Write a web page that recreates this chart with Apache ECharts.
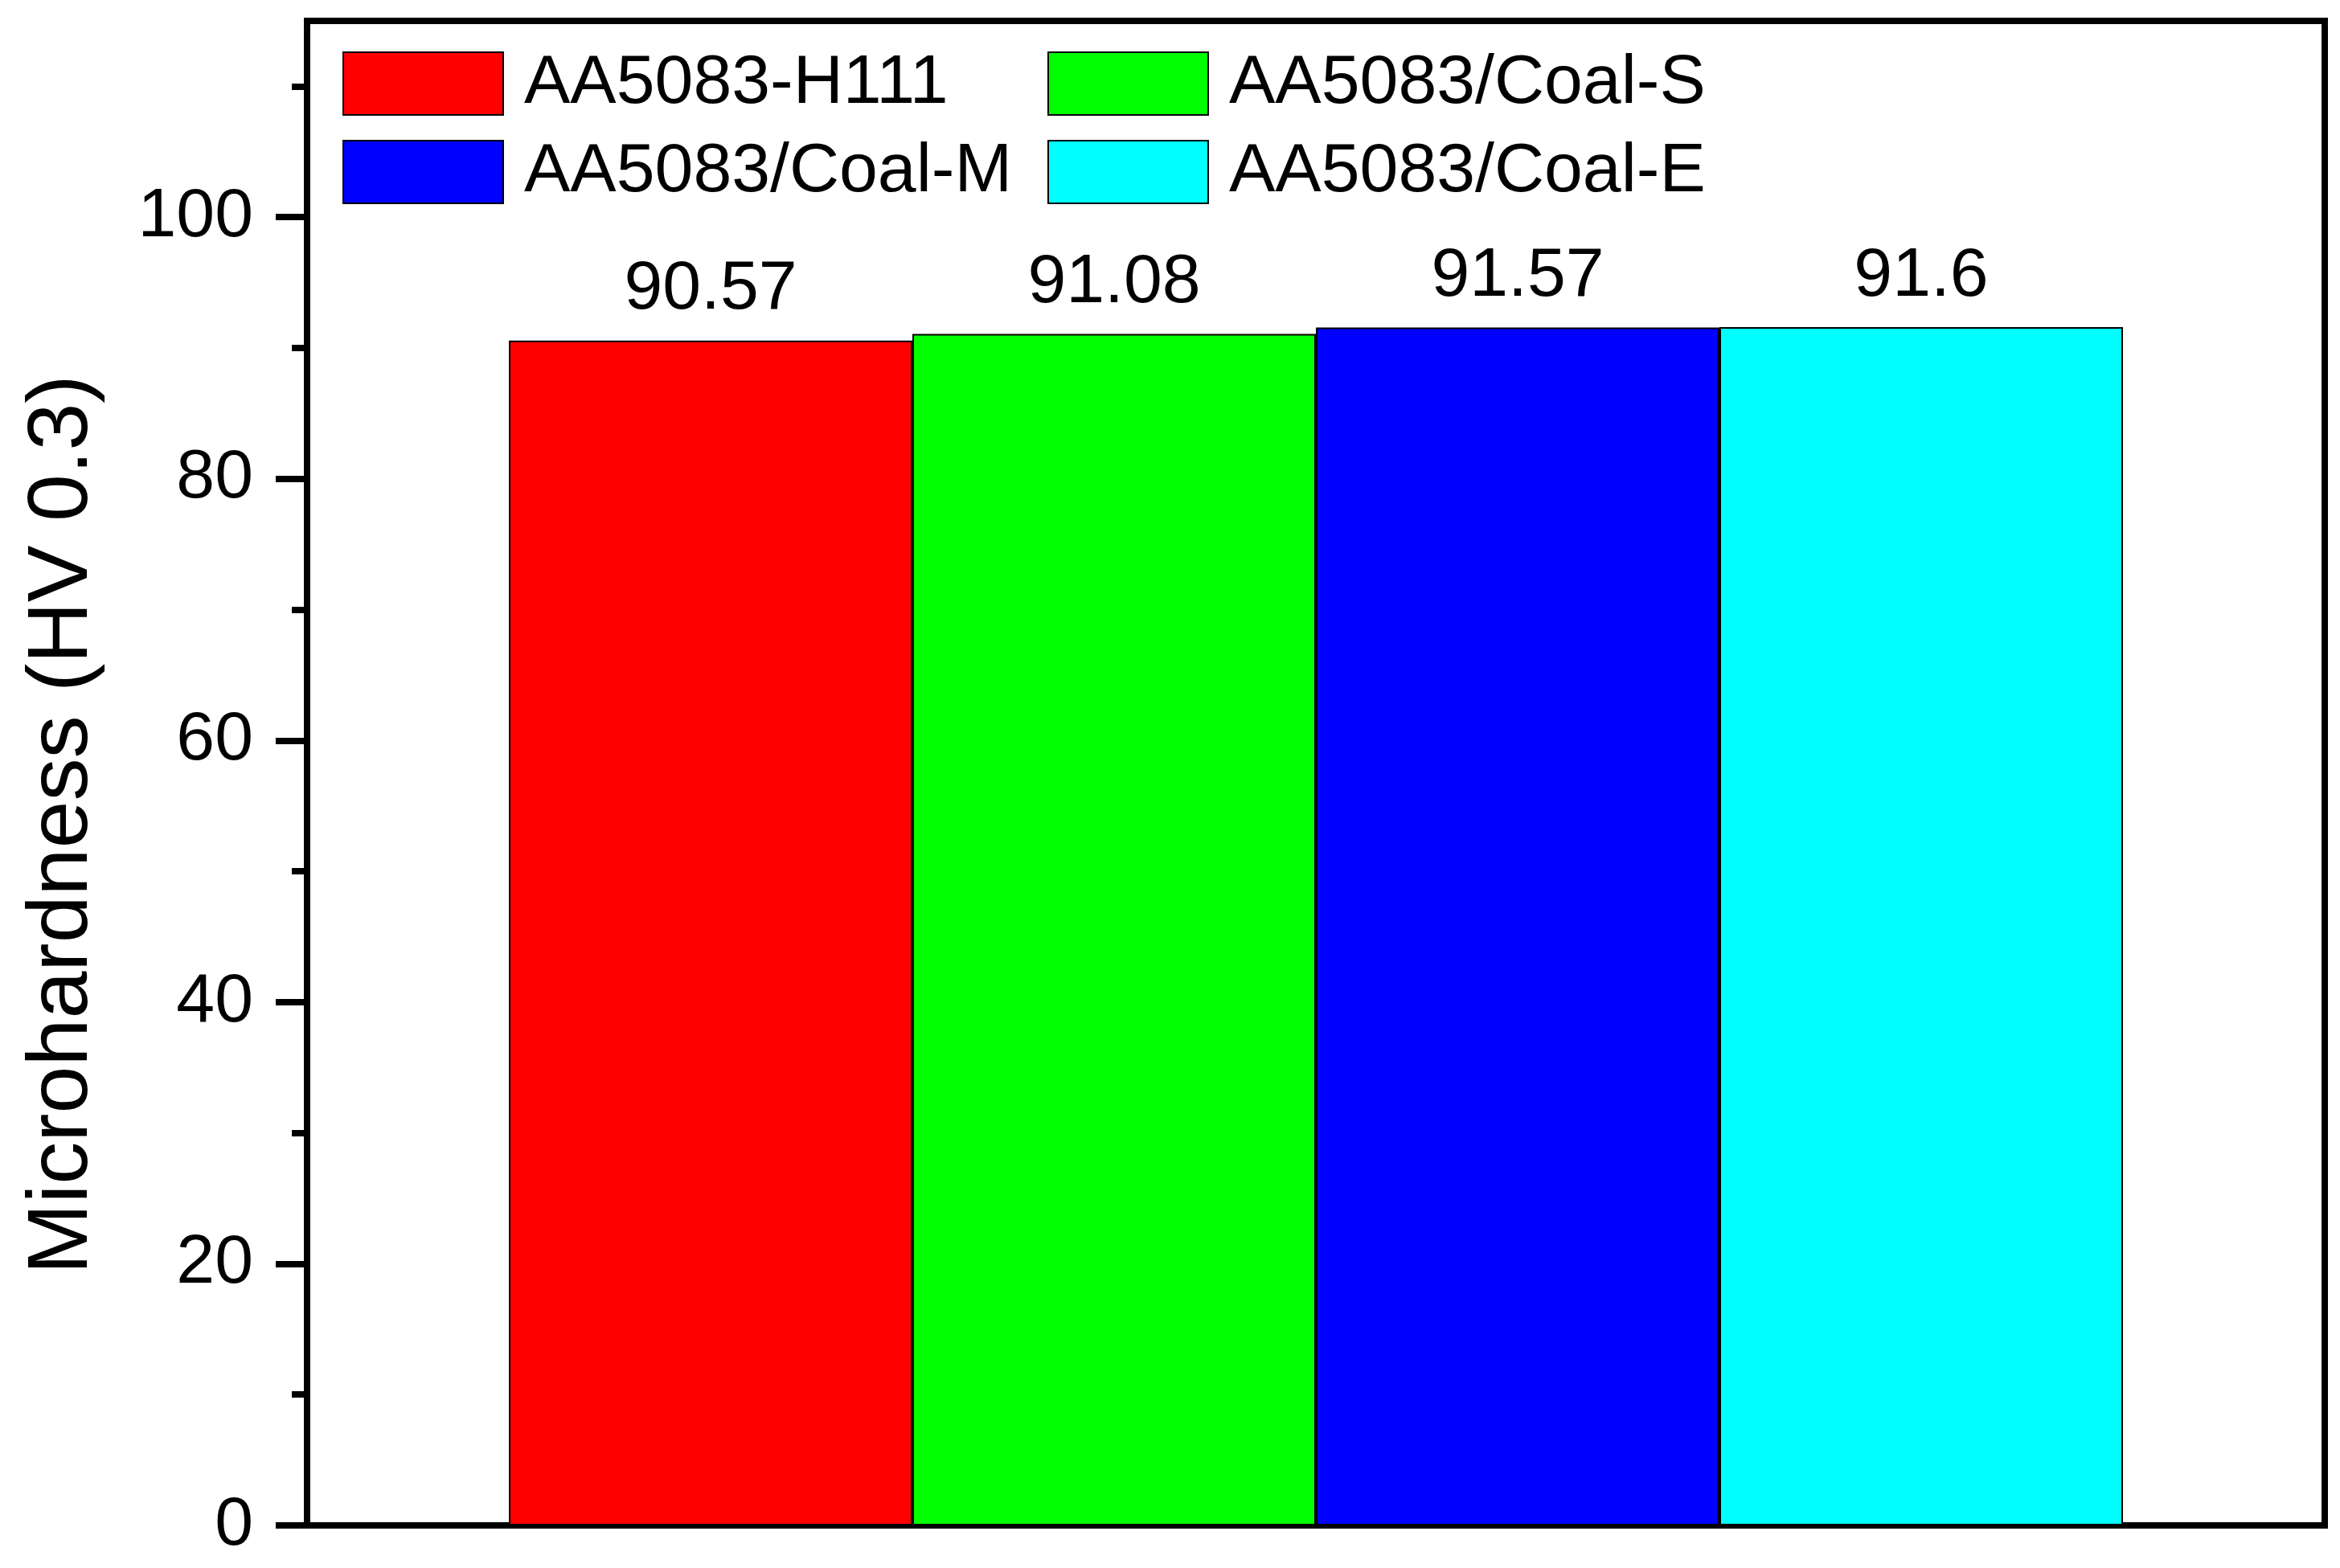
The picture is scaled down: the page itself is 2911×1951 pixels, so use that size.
<!DOCTYPE html>
<html>
<head>
<meta charset="utf-8">
<script src="https://cdn.jsdelivr.net/npm/echarts@6/dist/echarts.min.js"></script>
<style>
  html, body { margin: 0; padding: 0; background: #fff; }
</style>
</head>
<body>
<div id="main" style="width: 2911px;height:1951px;"></div>
<script>
// 数据
var seriesNames = ['AA5083-H111', 'AA5083/Coal-S', 'AA5083/Coal-M', 'AA5083/Coal-E'];
var hardness = [90.57, 91.08, 91.57, 91.6];
var barColors = ['#ff0000', '#00ff00', '#0000ff', '#00ffff'];
var majorTicks = [0, 20, 40, 60, 80, 100];
var minorTicks = [10, 30, 50, 70, 90, 110];
var yMax = 115;

var font = '"Liberation Sans", Arial, sans-serif';

var myChart = echarts.init(document.getElementById('main'));

var series = seriesNames.map(function (name, i) {
    return {
        name: name,
        type: 'bar',
        data: [hardness[i]],
        barWidth: 502,
        barGap: '0%',
        itemStyle: { color: barColors[i], borderColor: '#000', borderWidth: 2 },
        label: {
            show: true,
            position: 'top',
            distance: 20,
            color: '#000',
            fontSize: 86,
            fontFamily: font
        }
    };
});

// 图例分两列
function makeLegend(names, left) {
    return {
        data: names,
        orient: 'vertical',
        left: left,
        top: 61,
        padding: 0,
        itemGap: 24,
        itemWidth: 199,
        itemHeight: 78,
        icon: 'rect',
        itemStyle: { borderColor: '#000', borderWidth: 2 },
        textStyle: {
            fontSize: 86,
            fontFamily: font,
            color: '#000',
            padding: [0, 0, 0, 21]
        }
    };
}

var option = {
    animation: false,
    backgroundColor: '#fff',
    grid: {
        left: 382, right: 19, top: 26, bottom: 53,
        show: true,
        borderColor: '#000',
        borderWidth: 8
    },
    legend: [
        makeLegend([seriesNames[0], seriesNames[2]], 426),
        makeLegend([seriesNames[1], seriesNames[3]], 1303)
    ],
    xAxis: {
        type: 'category',
        data: [''],
        axisLine: { lineStyle: { color: '#000', width: 8 } },
        axisTick: { show: false },
        axisLabel: { show: false }
    },
    yAxis: [{
        type: 'value',
        position: 'left',
        min: 0,
        max: yMax,
        name: 'Microhardness (HV 0.3)',
        nameLocation: 'middle',
        nameGap: 250,
        nameTextStyle: {
            fontSize: 106,
            fontFamily: font,
            color: '#000',
            padding: [0, 128, 0, 0]
        },
        splitLine: { show: false },
        axisLine: { show: true, lineStyle: { color: '#000', width: 8 } },
        axisTick: {
            show: true,
            customValues: majorTicks,
            length: 39,
            lineStyle: { color: '#000', width: 8 }
        },
        axisLabel: {
            customValues: majorTicks,
            margin: 67,
            fontSize: 86,
            fontFamily: font,
            color: '#000'
        }
    }, {
        type: 'value',
        position: 'left',
        min: 0,
        max: yMax,
        splitLine: { show: false },
        axisLine: { show: false },
        axisLabel: { show: false },
        axisTick: {
            show: true,
            customValues: minorTicks,
            length: 19,
            lineStyle: { color: '#000', width: 8 }
        }
    }],
    series: series
};
myChart.setOption(option);
</script>
</body>
</html>
